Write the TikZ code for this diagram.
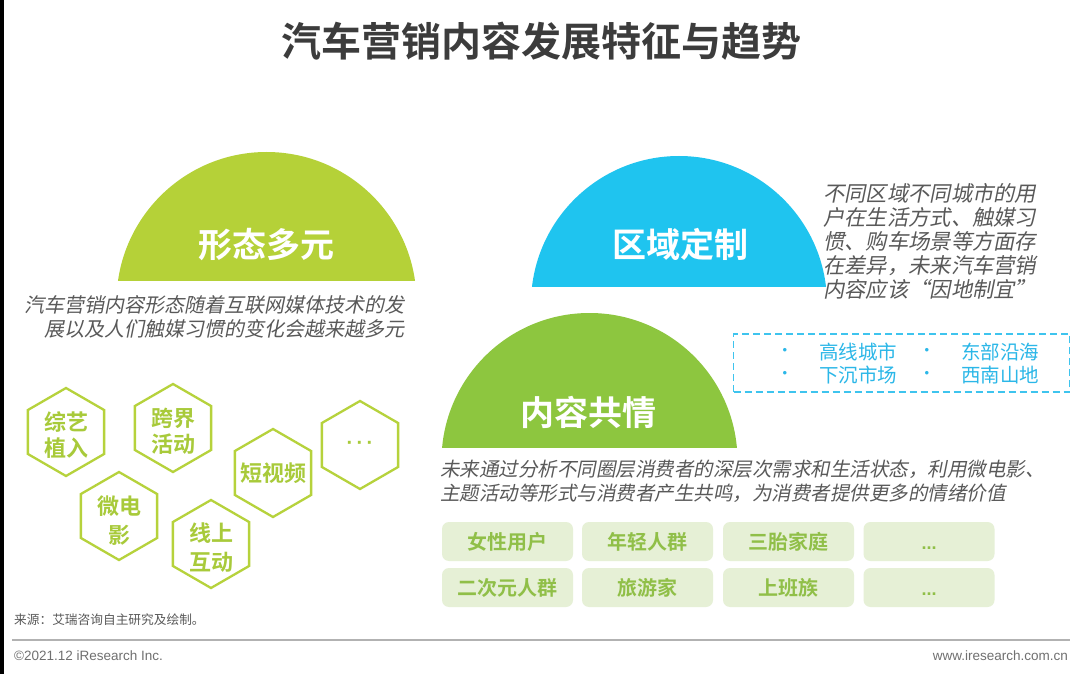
\documentclass[tikz,border=0pt]{standalone}
\usepackage{fontspec}
\usetikzlibrary{shapes.geometric}
\setmainfont{Noto Sans CJK SC}[BoldFont={Noto Sans CJK SC Bold}]
\newfontfamily\cjkit[FakeSlant=0.2]{Noto Sans CJK SC}
\newfontfamily\latin{Liberation Sans}
\definecolor{titlegray}{HTML}{3C3C3C}
\definecolor{greenA}{HTML}{B5D138}
\definecolor{greenB}{HTML}{8DC63F}
\definecolor{blueA}{HTML}{1FC4EF}
\definecolor{hexline}{HTML}{B6D23C}
\definecolor{hextext}{HTML}{A8CA3A}
\definecolor{descgray}{HTML}{595959}
\definecolor{tagbg}{HTML}{E6F0D6}
\definecolor{tagtext}{HTML}{90BF48}
\definecolor{dashblue}{HTML}{3EC4EE}
\definecolor{listblue}{HTML}{2BB7E8}
\definecolor{footgray}{HTML}{707070}
\tikzset{
  semilabel/.style={font=\fontsize{34}{40}\selectfont\bfseries, text=white, anchor=base, inner sep=0pt},
  descline/.style={font=\cjkit\fontsize{20}{24}\selectfont, text=descgray, inner sep=0pt},
  bluedesc/.style={font=\cjkit\fontsize{21.3}{24}\selectfont, text=descgray, inner sep=0pt, anchor=base west},
  hexa/.style={regular polygon, regular polygon sides=6, shape border rotate=30, minimum size=88pt, draw=hexline, line width=2.3pt, inner sep=0pt},
  hextxt/.style={font=\fontsize{22}{26}\selectfont\bfseries, text=hextext, anchor=base, inner sep=0pt},
  tagbox/.style={fill=tagbg, rounded corners=7pt, minimum width=131pt, minimum height=39pt, inner sep=0pt,
    font=\fontsize{20}{24}\selectfont\bfseries, text=tagtext, text height=17.6pt, text depth=2.4pt},
  listtxt/.style={font=\fontsize{19.5}{24}\selectfont, text=listblue, anchor=base west, inner sep=0pt},
  bullet/.style={font=\latin\fontsize{13}{15}\selectfont, text=listblue, inner sep=0pt},
}
\begin{document}
\begin{tikzpicture}[x=1pt,y=-1pt]
\useasboundingbox (0,0) rectangle (1080,674);
\fill[white] (0,0) rectangle (1080,674);
\fill[black] (0,0) rectangle (3.5,674);

% title
\node[font=\fontsize{40}{48}\selectfont\bfseries, text=titlegray, anchor=base, inner sep=0pt] (title) at (541,57) {汽车营销内容发展特征与趋势};

% semicircles
\begin{scope}
  \clip (0,0) rectangle (1080,280);
  \fill[greenA] (266.5,302) circle[radius=150];
\end{scope}
\begin{scope}
  \clip (0,0) rectangle (1080,286);
  \fill[blueA] (679,304) circle[radius=148];
\end{scope}
\begin{scope}
  \clip (0,0) rectangle (1080,447);
  \fill[greenB] (589.5,461) circle[radius=148];
\end{scope}
\node[semilabel] (formlabel) at (266,258) {形态多元};
\node[semilabel] (regionlabel) at (680,258) {区域定制};
\node[semilabel] (empathylabel) at (588,425) {内容共情};

% description under 形态多元
\node[descline, anchor=base east] (formdesc1) at (405,312.6) {汽车营销内容形态随着互联网媒体技术的发};
\node[descline, anchor=base east] (formdesc2) at (405,336.6) {展以及人们触媒习惯的变化会越来越多元};

% description beside 区域定制
\node[bluedesc] (regdesc1) at (823,201.2) {不同区域不同城市的用};
\node[bluedesc] (regdesc2) at (823,225.2) {户在生活方式、触媒习};
\node[bluedesc] (regdesc3) at (823,249.2) {惯、购车场景等方面存};
\node[bluedesc] (regdesc4) at (823,273.2) {在差异，未来汽车营销};
\node[bluedesc] (regdesc5) at (823,297.2) {内容应该“因地制宜”};

% dashed region box
\node[draw=dashblue, dash pattern=on 7pt off 4pt, line width=1.4pt, minimum width=336pt, minimum height=58pt, inner sep=0pt] (regionbox) at (901.5,363) {};
\node[bullet] (b1) at (785,351) {•};
\node[bullet] (b2) at (785,374) {•};
\node[bullet] (b3) at (927,351) {•};
\node[bullet] (b4) at (927,374) {•};
\node[listtxt] (l1) at (819,359.4) {高线城市};
\node[listtxt] (l2) at (819,382.4) {下沉市场};
\node[listtxt] (l3) at (961,359.4) {东部沿海};
\node[listtxt] (l4) at (961,382.4) {西南山地};

% description under 内容共情
\node[descline, anchor=base west, font=\cjkit\fontsize{19.5}{24}\selectfont] (empdesc1) at (440,476.4) {未来通过分析不同圈层消费者的深层次需求和生活状态，利用微电影、};
\node[descline, anchor=base west, font=\cjkit\fontsize{19.5}{24}\selectfont] (empdesc2) at (440,500.4) {主题活动等形式与消费者产生共鸣，为消费者提供更多的情绪价值};

% hexagons
\node[hexa] (h1) at (66,432) {};
\node[hexa] (h2) at (173,428) {};
\node[hexa] (h3) at (119,516) {};
\node[hexa] (h4) at (211,544) {};
\node[hexa] (h5) at (273,473) {};
\node[hexa] (h6) at (360,445) {};
\node[hextxt] (h1a) at (66,430.4) {综艺};
\node[hextxt] (h1b) at (66,456.9) {植入};
\node[hextxt] (h2a) at (173,426.4) {跨界};
\node[hextxt] (h2b) at (173,452.9) {活动};
\node[hextxt] (h3a) at (119,514.4) {微电};
\node[hextxt] (h3b) at (119,543.9) {影};
\node[hextxt] (h4a) at (211,541.4) {线上};
\node[hextxt] (h4b) at (211,570.9) {互动};
\node[hextxt] (h5a) at (273,481.4) {短视频};
\node[font=\latin\fontsize{20}{24}\selectfont\bfseries, text=hextext, inner sep=0pt] (h6a) at (360,445) {·\,·\,·};

% tags
\node[tagbox] (t1) at (507.5,541.5) {女性用户};
\node[tagbox] (t2) at (647.5,541.5) {年轻人群};
\node[tagbox] (t3) at (788.5,541.5) {三胎家庭};
\node[tagbox, font=\latin\fontsize{18}{22}\selectfont\bfseries] (t4) at (929,541.5) {...};
\node[tagbox] (t5) at (507.5,587.5) {二次元人群};
\node[tagbox] (t6) at (647.5,587.5) {旅游家};
\node[tagbox] (t7) at (788.5,587.5) {上班族};
\node[tagbox, font=\latin\fontsize{18}{22}\selectfont\bfseries] (t8) at (929,587.5) {...};

% footer
\node[font=\fontsize{12.7}{15}\selectfont, text=descgray, anchor=base west, inner sep=0pt] (source) at (14,624.8) {来源：艾瑞咨询自主研究及绘制。};
\coordinate (ruleL) at (12,640);
\coordinate (ruleR) at (1070,640);
\draw[line width=1.6pt, color=black!30] (ruleL) -- (ruleR);
\node[font=\latin\fontsize{13.5}{16}\selectfont, text=footgray, anchor=base west, inner sep=0pt] (copy) at (14,660) {©2021.12 iResearch Inc.};
\node[font=\latin\fontsize{13.5}{16}\selectfont, text=footgray, anchor=base east, inner sep=0pt] (web) at (1068,660) {www.iresearch.com.cn};
\end{tikzpicture}
\end{document}
